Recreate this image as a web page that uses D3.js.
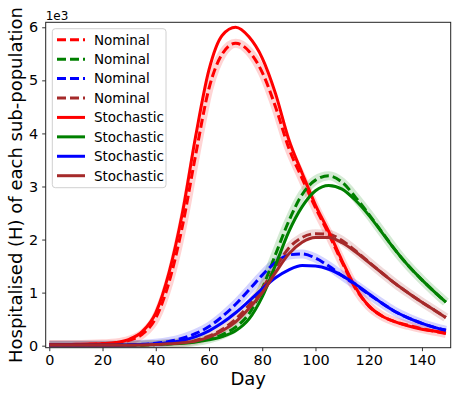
<!DOCTYPE html>
<html>
<head>
<meta charset="utf-8">
<script src="https://cdn.jsdelivr.net/npm/d3@7"></script>
<style>
  body { margin: 0; background: #fff; }
  text { font-family: "DejaVu Sans", sans-serif; fill: #000; }
</style>
</head>
<body>
<div id="chart"></div>
<script>
// days sampled along each curve
const days = [0,5,10,15,20,25,30,35,40,45,50,55,60,65,70,75,80,85,90,95,100,105,110,115,120,125,130,135,140,145,149];

// hospitalised, in thousands
const redNominal = [0.02,0.02,0.02,0.025,0.035,0.05,0.1,0.22,0.52,1.2,2.25,3.6,4.85,5.5,5.7,5.55,5.15,4.5,3.72,3.15,2.6,2.1,1.57,1.08,0.75,0.56,0.45,0.38,0.32,0.27,0.23];
const greenNominal = [0.01,0.01,0.01,0.01,0.01,0.01,0.01,0.015,0.02,0.035,0.05,0.08,0.13,0.21,0.35,0.6,1.08,1.72,2.35,2.85,3.12,3.2,3.08,2.8,2.48,2.14,1.8,1.5,1.24,1.0,0.82];
const blueNominal = [0.01,0.01,0.01,0.01,0.01,0.01,0.015,0.025,0.045,0.08,0.14,0.23,0.36,0.55,0.78,1.05,1.33,1.57,1.71,1.73,1.65,1.5,1.32,1.15,0.97,0.8,0.64,0.52,0.42,0.34,0.29];
const brownNominal = [0.01,0.01,0.01,0.01,0.01,0.01,0.01,0.015,0.02,0.04,0.06,0.1,0.18,0.31,0.5,0.76,1.08,1.47,1.84,2.04,2.11,2.1,1.98,1.79,1.58,1.37,1.17,0.99,0.82,0.66,0.53];

const redStochastic = [0.02,0.02,0.025,0.03,0.04,0.06,0.12,0.27,0.62,1.38,2.5,3.95,5.2,5.85,6.0,5.82,5.42,4.75,3.88,3.25,2.65,2.15,1.6,1.1,0.75,0.56,0.45,0.37,0.31,0.27,0.24];
const greenStochastic = [0.01,0.01,0.01,0.01,0.01,0.01,0.01,0.015,0.02,0.03,0.045,0.07,0.11,0.17,0.28,0.5,0.92,1.52,2.15,2.62,2.92,3.02,2.95,2.74,2.46,2.13,1.8,1.5,1.24,1.0,0.82];
const blueStochastic = [0.01,0.01,0.01,0.01,0.01,0.01,0.015,0.02,0.035,0.06,0.1,0.17,0.28,0.43,0.62,0.84,1.07,1.28,1.43,1.51,1.5,1.44,1.32,1.16,0.98,0.8,0.64,0.52,0.42,0.34,0.29];
const brownStochastic = [0.01,0.01,0.01,0.01,0.01,0.01,0.01,0.015,0.02,0.035,0.055,0.09,0.16,0.28,0.45,0.7,1.0,1.38,1.73,1.95,2.04,2.04,1.94,1.77,1.57,1.37,1.17,0.99,0.82,0.66,0.53];

const colors = ["#ff0000","#008000","#0000ff","#a52a2a"];
const xTicks = [0,20,40,60,80,100,120,140];
const yTicks = [0,1,2,3,4,5,6];
const labels = ["Nominal","Nominal","Nominal","Nominal","Stochastic","Stochastic","Stochastic","Stochastic"];

const nominal = [redNominal, greenNominal, blueNominal, brownNominal];
const stochastic = [redStochastic, greenStochastic, blueStochastic, brownStochastic];

const W = 456, H = 398;
const mLeft = 45.7, mRight = 450.7, mTop = 22.3, mBottom = 347.7;

const x = d3.scaleLinear().domain([-1.35, 150.8]).range([mLeft, mRight]);
const y = d3.scaleLinear().domain([-0.038, 6.094]).range([mBottom, mTop]);

const svg = d3.select("#chart").append("svg").attr("width", W).attr("height", H);

const line = d3.line()
  .x((d, i) => x(days[i]))
  .y(d => y(d))
  .curve(d3.curveMonotoneX);

svg.append("defs").append("clipPath").attr("id", "clip")
  .append("rect").attr("x", mLeft).attr("y", mTop).attr("width", mRight - mLeft).attr("height", mBottom - mTop);

const plot = svg.append("g").attr("clip-path", "url(#clip)");

// faint band around the nominal curves
nominal.forEach((s, k) => {
  plot.append("path").attr("d", line(s))
    .attr("fill", "none").attr("stroke", colors[k])
    .attr("stroke-width", 9).attr("stroke-opacity", 0.17)
    .attr("stroke-linejoin", "round");
});
nominal.forEach((s, k) => {
  plot.append("path").attr("d", line(s))
    .attr("fill", "none").attr("stroke", colors[k])
    .attr("stroke-width", 3).attr("stroke-dasharray", "9,4");
});
stochastic.forEach((s, k) => {
  plot.append("path").attr("d", line(s))
    .attr("fill", "none").attr("stroke", colors[k])
    .attr("stroke-width", 3);
});

// axes
const xAxis = svg.append("g").attr("transform", `translate(0,${mBottom})`)
  .call(d3.axisBottom(x).tickValues(xTicks).tickSize(3.5).tickPadding(4));
const yAxis = svg.append("g").attr("transform", `translate(${mLeft},0)`)
  .call(d3.axisLeft(y).tickValues(yTicks).tickFormat(d3.format("d")).tickSize(3.5).tickPadding(4));
[xAxis, yAxis].forEach(a => {
  a.select(".domain").remove();
  a.selectAll("line").attr("stroke", "#000").attr("stroke-width", 0.8);
  a.selectAll("text").style("font-family", "DejaVu Sans, sans-serif").style("font-size", "14.4px").attr("fill", "#000");
});
xAxis.selectAll("text").attr("dy", "0.71em");

svg.append("rect").attr("x", mLeft).attr("y", mTop)
  .attr("width", mRight - mLeft).attr("height", mBottom - mTop)
  .attr("fill", "none").attr("stroke", "#222").attr("stroke-width", 1);

svg.append("text").attr("x", mLeft).attr("y", 19.5)
  .style("font-size", "12px").text("1e3");

svg.append("text").attr("x", (mLeft + mRight) / 2).attr("y", 385)
  .attr("text-anchor", "middle").style("font-size", "18px").text("Day");

svg.append("text")
  .attr("transform", `translate(22,${(mTop + mBottom) / 2}) rotate(-90)`)
  .attr("text-anchor", "middle").style("font-size", "18px")
  .text("Hospitalised (H) of each sub-population");

// legend
const legend = svg.append("g");
legend.append("rect").attr("x", 52.3).attr("y", 28.7).attr("width", 113.7).attr("height", 159)
  .attr("rx", 3).attr("fill", "#fff").attr("fill-opacity", 0.8)
  .attr("stroke", "#d0d0d0").attr("stroke-width", 1);
labels.forEach((lab, i) => {
  const cy = 39.7 + i * 19.43;
  legend.append("line").attr("x1", 57).attr("x2", 85).attr("y1", cy).attr("y2", cy)
    .attr("stroke", colors[i % 4]).attr("stroke-width", 3)
    .attr("stroke-dasharray", i < 4 ? "9,4" : null);
  legend.append("text").attr("x", 94).attr("y", cy).attr("dy", "0.36em")
    .style("font-size", "13.5px").text(lab);
});
</script>
</body>
</html>
